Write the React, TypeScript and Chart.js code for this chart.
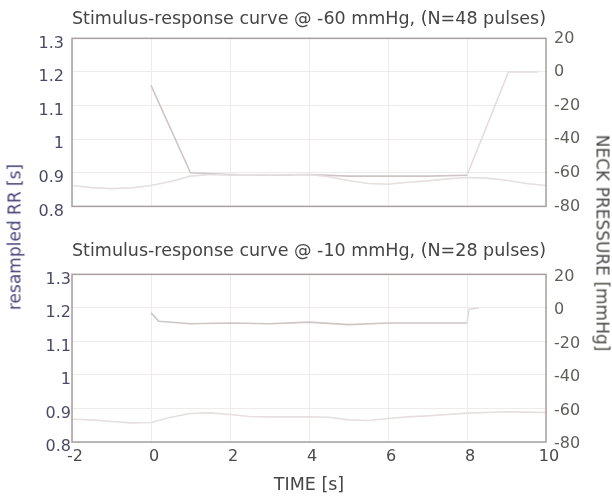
import React, { useEffect, useRef } from "react";
import { Chart, registerables } from "chart.js";

Chart.register(...registerables);

// ---------- data ----------
const rrTimes = [-2, -1.5, -1, -0.5, 0, 0.5, 1, 1.5, 2, 2.5, 3, 3.5, 4, 4.5, 5, 5.5, 6, 6.5, 7, 7.5, 8, 8.5, 9, 9.5, 10];
const rrTop = [0.862, 0.856, 0.853, 0.855, 0.862, 0.874, 0.89, 0.895, 0.893, 0.894, 0.893, 0.895, 0.895, 0.888, 0.877, 0.868, 0.866, 0.872, 0.876, 0.882, 0.886, 0.884, 0.878, 0.868, 0.862];
const rrBottom = [0.868, 0.866, 0.861, 0.857, 0.858, 0.874, 0.885, 0.887, 0.882, 0.876, 0.875, 0.875, 0.875, 0.874, 0.866, 0.864, 0.87, 0.875, 0.878, 0.882, 0.886, 0.888, 0.89, 0.889, 0.888];

const pressureTopTimes = [0, 1, 2, 3, 4, 5, 6, 7, 8, 9.05, 9.8];
const pressureTop = [-8, -60, -61, -61.5, -61, -62, -62, -62, -61.5, 0, 0];
const pressureBottomTimes = [0, 0.2, 1, 2, 3, 4, 5, 6, 7, 8, 8.05, 8.3];
const pressureBottom = [-3, -8, -9.5, -9, -9.5, -8.5, -10, -9, -9, -9, -1, 0];

const topTitle = "Stimulus-response curve @ -60 mmHg, (N=48 pulses)";
const bottomTitle = "Stimulus-response curve @ -10 mmHg, (N=28 pulses)";
const xTitle = "TIME [s]";
const leftTitle = "resampled RR [s]";
const rightTitle = "NECK PRESSURE [mmHg]";

const xMin = -2, xMax = 10, xStep = 2;
const rrMin = 0.8, rrMax = 1.3, rrStep = 0.1;
const pMin = -80, pMax = 20, pStep = 20;

// ---------- styles ----------
const FONT = "'DejaVu Sans', sans-serif";
const GRID = "#efebeb";
const BORDER = "#a99f9f";
const RR_COLOR = "#e6dfdf";
const P_COLOR = "#d0c5c5";
const P_COLOR_LIGHT = "#e4dcdc";

const boxPlugin = {
  id: "box",
  afterDraw(chart: any) {
    const { ctx, chartArea: a } = chart;
    ctx.save();
    ctx.strokeStyle = BORDER;
    ctx.lineWidth = 1.5;
    ctx.strokeRect(a.left, a.top, a.right - a.left, a.bottom - a.top);
    ctx.restore();
  },
};

function makeConfig(opts: {
  title: string;
  rr: number[];
  pt: number[];
  pv: number[];
  showX: boolean;
  titlePad: { top: number; bottom: number };
  xHeight: number;
  leftPad: number;
  leftOffset: number;
  rightOffset: number;
}) {
  return {
    type: "line",
    data: {
      datasets: [
        {
          label: "RR",
          data: rrTimes.map((t, i) => ({ x: t, y: opts.rr[i] })),
          yAxisID: "y",
          borderColor: RR_COLOR,
          borderWidth: 1.6,
          pointRadius: 0,
          tension: 0,
        },
        {
          label: "Pressure",
          data: opts.pt.map((t, i) => ({ x: t, y: opts.pv[i] })),
          yAxisID: "y2",
          borderColor: P_COLOR,
          borderWidth: 1.6,
          pointRadius: 0,
          tension: 0,
          segment: {
            borderColor: (c: any) => (c.p0.parsed.x >= 8 ? P_COLOR_LIGHT : P_COLOR),
          },
        },
      ],
    },
    options: {
      responsive: false,
      animation: false,
      devicePixelRatio: 1,
      layout: { padding: 0 },
      plugins: {
        legend: { display: false },
        tooltip: { enabled: false },
        title: {
          display: true,
          text: opts.title,
          fullSize: false,
          color: "#444444",
          font: { family: FONT, size: 17.8, weight: "normal", lineHeight: 1.2 },
          padding: opts.titlePad,
        },
      },
      scales: {
        x: {
          type: "linear",
          min: xMin,
          max: xMax,
          afterFit: (s: any) => { s.height = opts.xHeight; },
          ticks: {
            display: opts.showX,
            stepSize: xStep,
            padding: 5,
            labelOffset: 3,
            color: "#4a4a4a",
            font: { family: FONT, size: 16 },
            maxRotation: 0,
          },
          grid: { color: GRID, drawTicks: false },
          border: { display: false },
          title: {
            display: opts.showX,
            text: xTitle,
            color: "#454545",
            font: { family: FONT, size: 17.5 },
            padding: { top: 0, bottom: 1 },
          },
        },
        y: {
          type: "linear",
          position: "left",
          min: rrMin,
          max: rrMax,
          afterFit: (s: any) => { s.width = 72; },
          ticks: {
            stepSize: rrStep,
            padding: opts.leftPad,
            labelOffset: opts.leftOffset,
            color: "#4a4a68",
            font: { family: FONT, size: 16 },
            callback: (v: number) => String(Math.round(v * 10) / 10),
          },
          grid: { color: GRID, drawTicks: false },
          border: { display: false },
        },
        y2: {
          type: "linear",
          position: "right",
          min: pMin,
          max: pMax,
          afterFit: (s: any) => { s.width = 66; },
          ticks: {
            stepSize: pStep,
            padding: 8,
            labelOffset: opts.rightOffset,
            color: "#5f5f58",
            font: { family: FONT, size: 16 },
          },
          grid: { display: false, drawTicks: false },
          border: { display: false },
        },
      },
    },
    plugins: [boxPlugin],
  } as any;
}

function Panel(props: { config: any; top: number; height: number }) {
  const ref = useRef<HTMLCanvasElement | null>(null);
  useEffect(() => {
    if (!ref.current) return;
    const chart = new Chart(ref.current, props.config);
    return () => chart.destroy();
  }, []);
  return (
    <canvas
      ref={ref}
      width={612}
      height={props.height}
      style={{ position: "absolute", left: 0, top: props.top, width: 612, height: props.height }}
    />
  );
}

export default function App() {
  const topCfg = makeConfig({
    title: topTitle,
    rr: rrTop,
    pt: pressureTopTimes,
    pv: pressureTop,
    showX: false,
    titlePad: { top: 8.5, bottom: 8.5 },
    xHeight: 14,
    leftPad: 8,
    leftOffset: 5,
    rightOffset: 0,
  });
  const bottomCfg = makeConfig({
    title: bottomTitle,
    rr: rrBottom,
    pt: pressureBottomTimes,
    pv: pressureBottom,
    showX: true,
    titlePad: { top: 20.5, bottom: 12.5 },
    xHeight: 55,
    leftPad: 1,
    leftOffset: 5,
    rightOffset: 2,
  });
  return (
    <div style={{ position: "fixed", left: 0, top: 0, width: 612, height: 497, background: "#fff", overflow: "hidden" }}>
      <Panel config={topCfg} top={0} height={224} />
      <Panel config={bottomCfg} top={220} height={277} />
      <div
        style={{
          position: "absolute",
          left: 15,
          top: 237,
          transform: "translate(-50%, -50%) rotate(-90deg)",
          whiteSpace: "nowrap",
          fontFamily: FONT,
          fontSize: 17,
          color: "#46467a",
          lineHeight: 1,
        }}
      >
        {leftTitle}
      </div>
      <div
        style={{
          position: "absolute",
          left: 602,
          top: 243,
          transform: "translate(-50%, -50%) rotate(90deg)",
          whiteSpace: "nowrap",
          fontFamily: FONT,
          fontSize: 17,
          color: "#4a4a45",
          lineHeight: 1,
        }}
      >
        {rightTitle}
      </div>
    </div>
  );
}
